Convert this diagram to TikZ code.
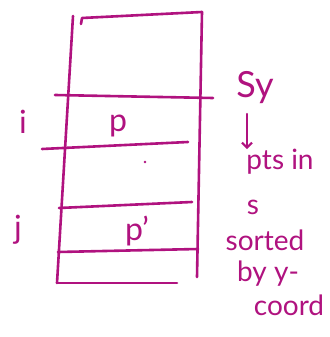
\documentclass[tikz,border=0pt]{standalone}
\usepackage{fontspec}
\usetikzlibrary{arrows.meta}
\setmainfont{Lato}
\definecolor{ink}{HTML}{B0127F}
\tikzset{
  pen/.style={draw=ink, line width=2.6pt, line cap=round, line join=round},
  label/.style={text=ink, font=\fontsize{32}{34}\selectfont, inner sep=0pt},
  note/.style={text=ink, font=\fontsize{28}{30}\selectfont, inner sep=0pt},
}
\begin{document}
\begin{tikzpicture}[x=1pt, y=-1pt]
  \fill[white] (0,0) rectangle (329,337);
  \useasboundingbox (0,0) rectangle (329,337);

  % the array S_y: outer frame
  \draw[pen] (81,24) -- (82,18) -- (202,12);
  \draw[pen] (73,16) -- (57,283);
  \draw[pen] (202,12) -- (197,277);
  \draw[pen] (57,283) -- (177,283);

  % rows of the array
  \draw[pen] (55,95) -- (213,98);
  \draw[pen] (42,149) -- (188,142);
  \draw[pen] (59,208) -- (192,202);
  \draw[pen] (58,252) -- (198,249);

  % small dot between the rows
  \fill[ink] (145,162) circle (1.3pt);

  % entries and indices
  \node[label] (i) at (23,122) {i};
  \node[label] (p) at (118,126) {p};
  \node[label] (j) at (18,230) {j};
  \node[label] (pp) at (137,231) {p'};

  % description on the right
  \node[label, font=\fontsize{36}{38}\selectfont] (sy) at (255,88) {Sy};
  \node[note] (pts) at (280,162) {pts in};
  \node[note] (s) at (253,207) {s};
  \node[note] (sorted) at (265,240) {sorted};
  \node[note] (by) at (268,274) {by y-};
  \node[note] (coord) at (289,305) {coord};
  \coordinate (a0) at (247,114);
  \draw[pen, line width=2.2pt, -{Straight Barb[length=5pt]}] (a0) -- (a0 |- pts.north);
\end{tikzpicture}
\end{document}
